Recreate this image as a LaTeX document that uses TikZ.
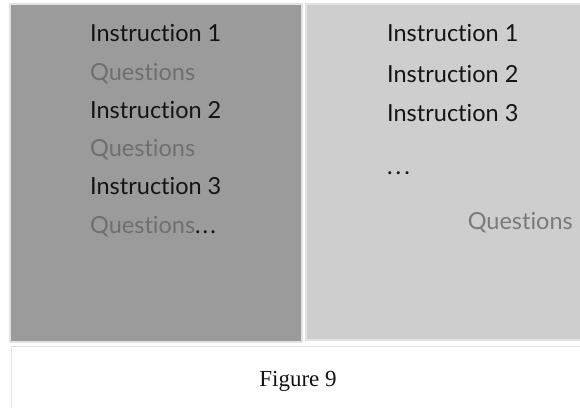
\documentclass[tikz,border=0pt]{standalone}
\usepackage{fontspec}
\setmainfont{Lato}[Ligatures={NoCommon}]
\newfontfamily\capfont{Liberation Serif}
\definecolor{darkpanel}{HTML}{9B9B9B}
\definecolor{lightpanel}{HTML}{CECECE}
\definecolor{edge}{HTML}{E2E2E2}
\definecolor{qgrayA}{HTML}{6F6F6F}
\definecolor{qgrayB}{HTML}{7A7A7A}
\definecolor{ink}{HTML}{141414}
\tikzset{
  panel/.style={draw=edge, line width=1.5pt},
  item/.style={anchor=base west, inner sep=0pt, font=\fontsize{23.5}{28}\selectfont, text=ink},
  qitemA/.style={item, text=qgrayA},
  qitemB/.style={item, text=qgrayB},
}
\begin{document}
\begin{tikzpicture}[x=1pt,y=-1pt]
\useasboundingbox (0,0) rectangle (580,407);
\fill[white] (0,0) rectangle (580,407);
% panels
\path[panel, fill=darkpanel] (10,4) rectangle (302,342);
\path[panel, fill=lightpanel] (306,4) rectangle (581,340);
\path[draw=edge, line width=1pt, fill=white] (11,346) rectangle (581,408);
% left column
\node[item]   (l1) at (90,41)  {Instruction 1};
\node[qitemA] (l2) at (90,80)  {Questions};
\node[item]   (l3) at (90,118) {Instruction 2};
\node[qitemA] (l4) at (90,156) {Questions};
\node[item]   (l5) at (90,194) {Instruction 3};
\node[qitemA] (l6) at (90,233) {Questions\textcolor{ink}{.\kern2pt.\kern2pt.}};
% right column
\node[item]   (r1) at (387,41)  {Instruction 1};
\node[item]   (r2) at (387,82)  {Instruction 2};
\node[item]   (r3) at (387,121) {Instruction 3};
\node[item]   (r4) at (387,174) {.\kern3pt.\kern3pt.};
\node[qitemB, anchor=base east] (r5) at (573,229) {Questions};
% caption
\node[anchor=base, inner sep=0pt, font=\capfont\fontsize{23}{27}\selectfont, text=ink] (cap) at (298,386) {Figure 9};
\end{tikzpicture}
\end{document}
